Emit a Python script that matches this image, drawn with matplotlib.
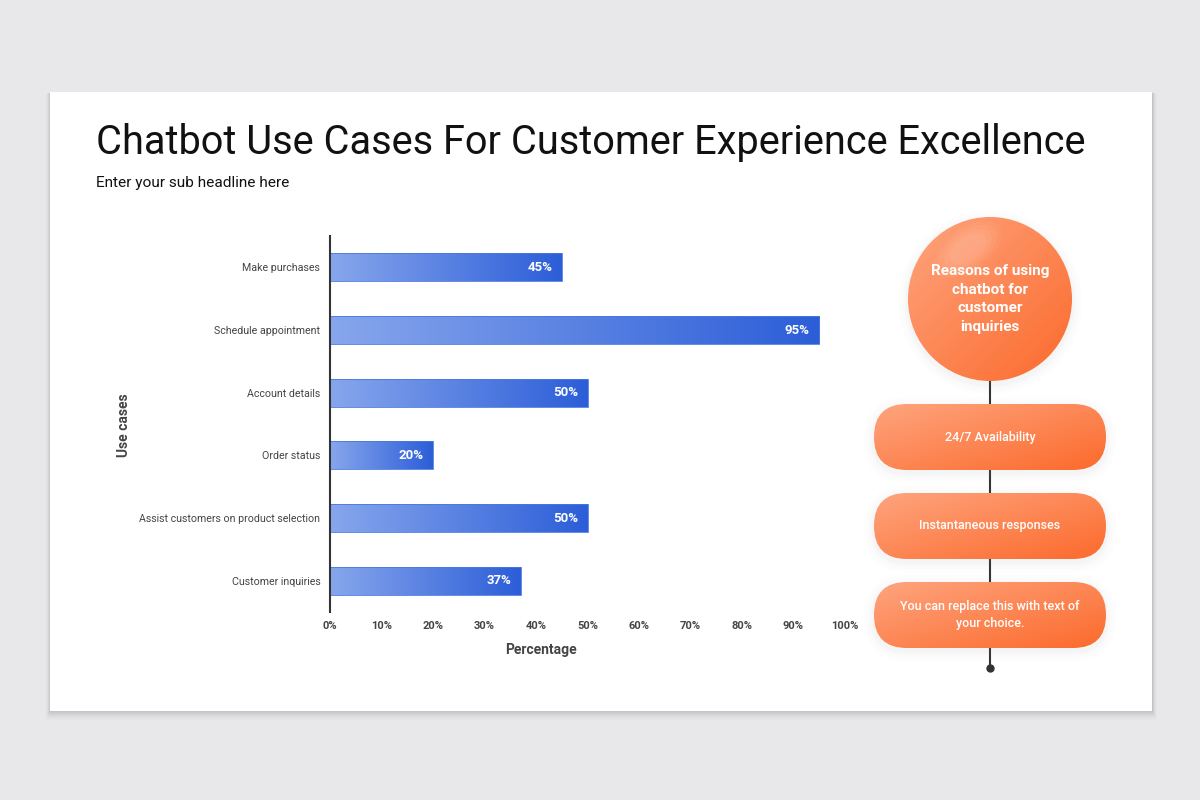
import numpy as np
import matplotlib
matplotlib.use("Agg")
import matplotlib.pyplot as plt
from matplotlib.colors import LinearSegmentedColormap
from matplotlib.patches import Rectangle, Circle, FancyBboxPatch, Ellipse

plt.rcParams['font.family'] = ['Roboto', 'DejaVu Sans']

# data
use_cases = ["Make purchases", "Schedule appointment", "Account details",
             "Order status", "Assist customers on product selection",
             "Customer inquiries"]
percent = [45, 95, 50, 20, 50, 37]
xticks = [0, 10, 20, 30, 40, 50, 60, 70, 80, 90, 100]
reasons = ["24/7 Availability", "Instantaneous responses",
           "You can replace this with text of\nyour choice."]
circle_text = "Reasons of using\nchatbot for\ncustomer\ninquiries"

title = "Chatbot Use Cases For Customer Experience Excellence"
subtitle = "Enter your sub headline here"

blue = LinearSegmentedColormap.from_list("b", ["#87a6ec", "#2c5ed8"])
orange = LinearSegmentedColormap.from_list("o", ["#fea47e", "#fc6a2c"])

fig = plt.figure(figsize=(12, 8), dpi=100)
fig.patch.set_facecolor("#e8e7e9")

# background layer in pixel coords
bg = fig.add_axes([0, 0, 1, 1], zorder=0)
bg.set_xlim(0, 1200)
bg.set_ylim(800, 0)
bg.axis("off")

# card shadow + card
for k, a in zip(range(10, 0, -1), [0.005, 0.007, 0.009, 0.011, 0.013, 0.015, 0.018, 0.021, 0.024, 0.027]):
    bg.add_patch(Rectangle((50 - k * 0.5, 92 + k * 0.2), 1102 + k * 1.0, 619 + k * 0.8,
                           facecolor="black", alpha=a, lw=0))
bg.add_patch(Rectangle((50, 92), 1102, 619, facecolor="white", lw=0))

bg.text(96, 143, title, fontsize=28.6, color="#111111", va="center", ha="left")
bg.text(96, 183, subtitle, fontsize=11.1, color="#111111", va="center", ha="left")

# right-side flow
cx = 990
bg.plot([cx, cx], [381, 668], color="#333333", lw=1.5, zorder=1)
bg.plot([cx], [668], "o", color="#333333", ms=5, zorder=1)


def soft_shadow(patch_fn):
    for s, a in [(10, 0.012), (7, 0.018), (4, 0.025), (2, 0.03)]:
        bg.add_patch(patch_fn(s, a))


# circle
r = 82
cy = 299
soft_shadow(lambda s, a: Circle((cx, cy + 3), r + s, facecolor="#999999", alpha=a, lw=0, zorder=2))
circ = Circle((cx, cy), r, facecolor="none", lw=0, zorder=3)
bg.add_patch(circ)
gx, gy = np.meshgrid(np.linspace(0, 1, 100), np.linspace(0, 1, 100))
grad2 = (gx + gy) / 2
im = bg.imshow(grad2, cmap=orange, extent=(cx - r, cx + r, cy + r, cy - r),
               aspect="auto", zorder=3)
im.set_clip_path(circ)
# soft glossy highlight
for w, a in [(78, 0.04), (66, 0.05), (54, 0.06), (42, 0.06)]:
    gloss = Ellipse((cx - 22, cy - 50), w, w * 0.55, angle=-35, facecolor="white",
                    alpha=a, lw=0, zorder=4)
    bg.add_patch(gloss)
    gloss.set_clip_path(circ)
bg.text(cx, cy, circle_text, color="white", fontsize=11, fontweight="bold",
        ha="center", va="center", linespacing=1.42, zorder=5)

# pills
pill_y = [437, 526, 615]
pw, ph = 232, 66
for txt, py in zip(reasons, pill_y):
    x0, y0 = cx - pw / 2, py - ph / 2
    soft_shadow(lambda s, a: FancyBboxPatch((x0 - s, y0 - s + 3), pw + 2 * s, ph + 2 * s,
                                            boxstyle="round,pad=0,rounding_size=%f" % (ph / 2 + s),
                                            facecolor="#999999", alpha=a, lw=0, zorder=2))
    pill = FancyBboxPatch((x0, y0), pw, ph, boxstyle="round,pad=0,rounding_size=33",
                          facecolor="none", lw=0, zorder=3)
    bg.add_patch(pill)
    gi = bg.imshow(grad2, cmap=orange, extent=(x0, x0 + pw, y0 + ph, y0),
                   aspect="auto", zorder=3)
    gi.set_clip_path(pill)
    bg.text(cx, py, txt, color="white", fontsize=9.0, fontweight="medium",
            ha="center", va="center", linespacing=1.35, zorder=5)

# bar chart
ax = fig.add_axes([330 / 1200, 1 - 612 / 800, 515 / 1200, 376 / 800], zorder=1)
ax.set_facecolor("none")
ypos = np.arange(len(use_cases))
bh = 0.45
bars = ax.barh(ypos, percent, height=bh, color="none", edgecolor="#4a78e0", lw=0.6)
hgrad = np.linspace(0, 1, 200).reshape(1, -1)
for b, v, y in zip(bars, percent, ypos):
    gim = ax.imshow(hgrad, cmap=blue, extent=(0, v, y + bh / 2, y - bh / 2),
                    aspect="auto", zorder=1)
    gim.set_clip_path(b)
    b.set_zorder(2)
    ax.text(v - 1.8, y, f"{v}%", color="white", fontsize=9.5, fontweight="bold",
            ha="right", va="center", zorder=3)

ax.set_xlim(0, 100)
ax.set_ylim(len(use_cases) - 0.5, -0.5)
ax.set_yticks(ypos)
ax.set_yticklabels(use_cases, fontsize=7.7, color="#444444")
ax.set_xticks(xticks)
ax.set_xticklabels([f"{t}%" for t in xticks], fontsize=8, color="#444444", fontweight="bold")
ax.tick_params(length=0)
ax.tick_params(axis="y", pad=7)
ax.tick_params(axis="x", pad=6.5)
for s in ["top", "right", "bottom"]:
    ax.spines[s].set_visible(False)
ax.spines["left"].set_color("#333333")
ax.spines["left"].set_linewidth(1.5)

fig.text(541 / 1200, 1 - 650 / 800, "Percentage", fontsize=10, fontweight="bold",
         color="#444444", ha="center", va="center")
fig.text(124 / 1200, 1 - 425 / 800, "Use cases", fontsize=10, fontweight="bold",
         color="#444444", ha="center", va="center", rotation=90)

fig.savefig("out.png", dpi=100, facecolor=fig.get_facecolor())
